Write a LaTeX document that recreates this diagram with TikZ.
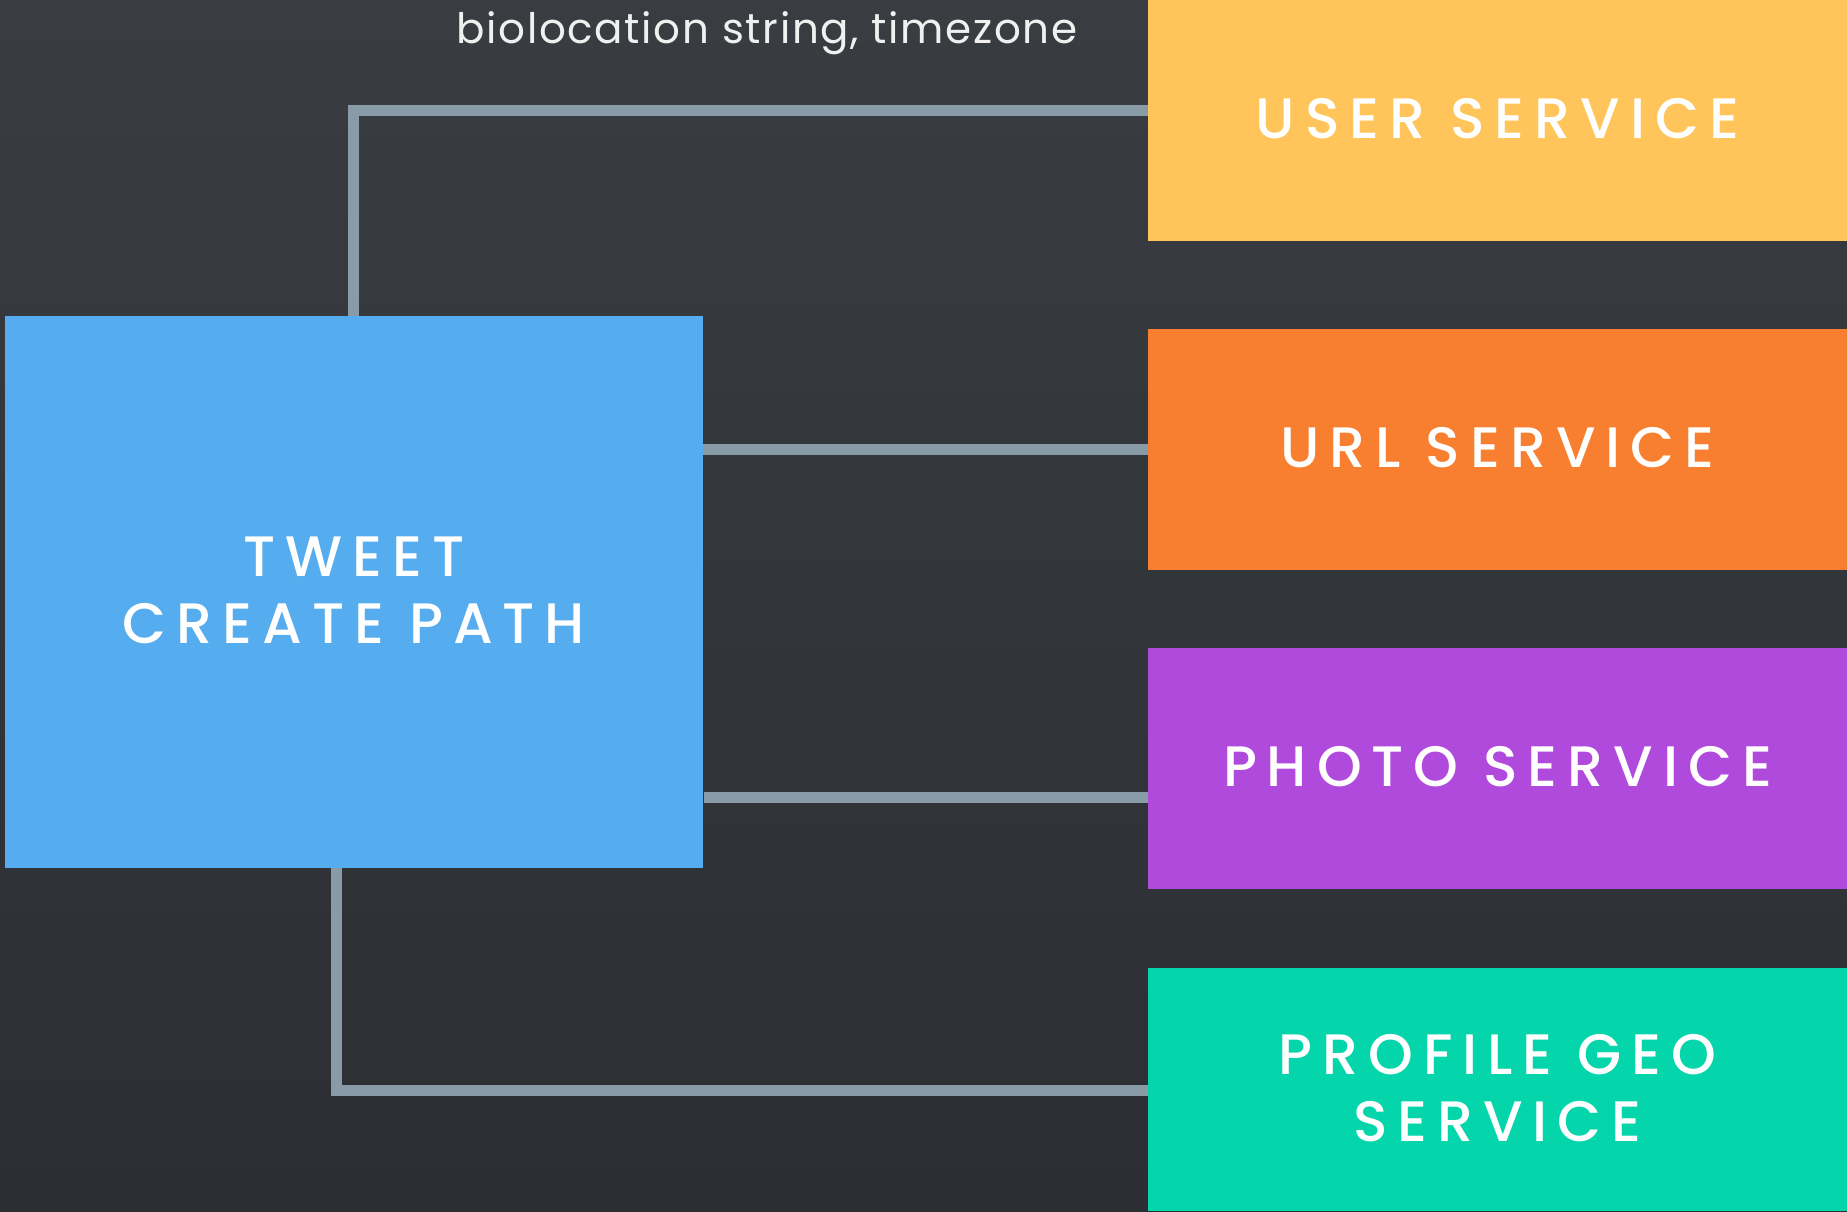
\documentclass[tikz,border=0pt]{standalone}
\usepackage{fontspec}
\usepackage{xcolor}
\usetikzlibrary{positioning}
\newfontfamily\labelfont[LetterSpace=17.5]{Poppins Medium}
\newfontfamily\notefont[LetterSpace=4]{Poppins}

\definecolor{bgTop}{RGB}{57,60,64}
\definecolor{bgBottom}{RGB}{43,46,50}
\definecolor{linkColor}{RGB}{138,155,168}
\definecolor{tweetColor}{RGB}{85,172,238}
\definecolor{userColor}{RGB}{255,196,90}
\definecolor{urlColor}{RGB}{247,127,47}
\definecolor{photoColor}{RGB}{176,74,220}
\definecolor{geoColor}{RGB}{5,213,170}
\definecolor{noteColor}{RGB}{240,240,240}

\tikzset{
  box/.style={anchor=north west,inner sep=0pt,outer sep=0pt,text=white,align=center,
    text depth=4pt,font=\labelfont\fontsize{57}{67}\selectfont},
  svc/.style={box,minimum width=699,minimum height=241},
  link/.style={draw=linkColor,line width=11pt}
}

\begin{document}
\begin{tikzpicture}[x=1pt,y=-1pt]
\path[use as bounding box,top color=bgTop,bottom color=bgBottom] (0,0) rectangle (1847,1211);

\node[box,fill=tweetColor,minimum width=698,minimum height=552] (tweet) at (5,316) {TWEET\\CREATE PATH};

\node[svc,fill=userColor] (user) at (1148,0) {USER SERVICE};
\node[svc,fill=urlColor] (url) at (1148,329) {URL SERVICE};
\node[svc,fill=photoColor] (photo) at (1148,648) {PHOTO SERVICE};
\node[svc,fill=geoColor,minimum height=243] (geo) at (1148,968) {PROFILE GEO\\SERVICE};

\node[text=noteColor,anchor=base,inner sep=0pt,font=\notefont\fontsize{42}{48}\selectfont] (note) at (767,43) {biolocation string, timezone};

\coordinate (userbend) at (353,110);
\coordinate (photobend) at (704,797);
\coordinate (geobend) at (336,1090);

\draw[link] (tweet.north -| userbend) |- (user.west |- userbend);
\draw[link] (tweet.east |- url.west) -- (url.west);
\draw[link] (photobend) -- (photo.west |- photobend);
\draw[link] (tweet.south -| geobend) |- (geo.west |- geobend);
\end{tikzpicture}
\end{document}
